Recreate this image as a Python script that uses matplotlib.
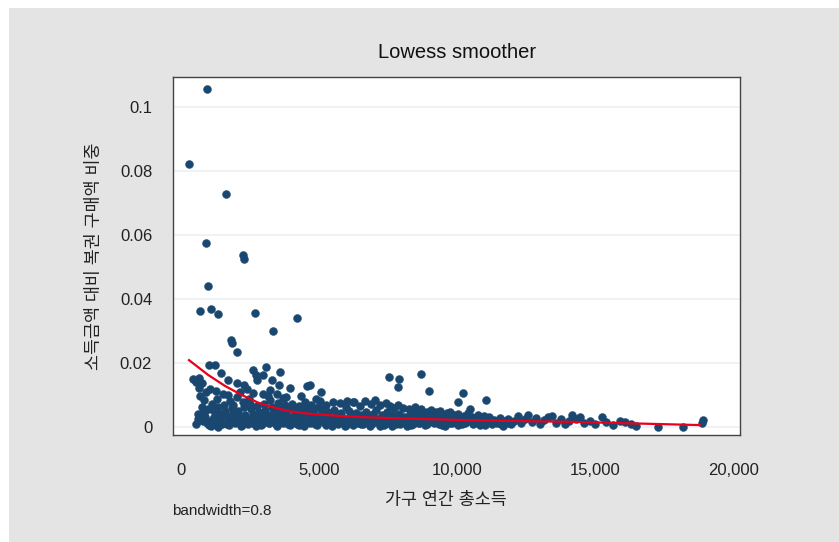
import numpy as np
import matplotlib.pyplot as plt
from matplotlib.patches import Rectangle
from matplotlib.ticker import FuncFormatter

plt.rcParams['font.family'] = ['Liberation Sans', 'Noto Sans CJK KR', 'DejaVu Sans']

# household income vs. share of income spent on lottery tickets
income = [
    940, 290, 1630, 910, 2250, 2280, 980, 690, 1090, 1340,
    2680, 4200, 3330, 1810, 1850, 2030, 1010, 1230, 1450, 2610,
    3080, 2720, 3590, 650, 760, 900, 1700, 2760, 2980, 3300,
    3550, 3950, 4560, 3230, 2030, 2290, 1260, 1700, 3800, 4330,
    5060, 7540, 7900, 7860, 8700, 8990, 10220, 10040, 11050, 6230,
    # 300-1000
    430, 560, 640, 700, 760, 820, 880, 930, 690, 980, 850, 600,
    # 1000-2000
    1040, 1110, 1160, 1200, 1250, 1300, 1350, 1390, 1430, 1480,
    1520, 1560, 1600, 1650, 1700, 1740, 1790, 1840, 1880, 1920,
    1960, 1080, 1330, 1620, 1900,
    # 2000-3000
    2020, 2060, 2100, 2140, 2180, 2230, 2280, 2320, 2370, 2410,
    2460, 2500, 2550, 2590, 2640, 2680, 2720, 2770, 2810, 2850,
    2900, 2950, 2980, 2150, 2400, 2600,
    # 3000-4000
    3020, 3060, 3100, 3150, 3190, 3240, 3290, 3330, 3380, 3420,
    3470, 3510, 3560, 3600, 3650, 3700, 3750, 3800, 3840, 3890,
    3940, 3980, 3150, 3460, 3700,
    # 4000-5000
    4030, 4080, 4120, 4170, 4210, 4260, 4310, 4350, 4400, 4450,
    4490, 4540, 4590, 4630, 4680, 4720, 4770, 4810, 4860, 4910,
    4950, 4680, 4880,
    # 5000-6000
    5030, 5080, 5120, 5170, 5220, 5270, 5320, 5360, 5410, 5460,
    5510, 5560, 5600, 5650, 5700, 5750, 5800, 5840, 5890, 5940,
    5980,
    # 6000-7000
    6030, 6080, 6130, 6180, 6230, 6280, 6330, 6380, 6420, 6470,
    6520, 6570, 6610, 6660, 6710, 6760, 6800, 6850, 6900, 6950,
    # 7000-8000
    7030, 7080, 7120, 7170, 7220, 7270, 7320, 7360, 7410, 7460,
    7510, 7560, 7600, 7650, 7700, 7750, 7800, 7850, 7900, 7950,
    # 8000-9000
    8040, 8090, 8140, 8190, 8250, 8300, 8360, 8410, 8470, 8520,
    8580, 8630, 8690, 8740, 8800, 8850, 8910, 8960,
    # 9000-10000
    9040, 9100, 9160, 9220, 9280, 9340, 9400, 9460, 9520, 9580,
    9640, 9700, 9760, 9820, 9880, 9940,
    # 10000-11000
    10050, 10120, 10190, 10260, 10330, 10400, 10470, 10540, 10610, 10680,
    10750, 10820, 10900, 10970,
    # 11000-12000
    11080, 11170, 11260, 11350, 11450, 11550, 11650, 11750, 11850, 11950,
    # 12000 and up
    12080, 12200, 12330, 12450, 12570, 12700, 12850, 13000, 13150, 13300,
    13440, 13600, 13750, 13900, 14050, 14170, 14300, 14460, 14600, 14800,
    15000, 15250, 15400, 15650, 15900, 16090, 16300, 16500, 17280, 18190,
    18880, 18910,
    # low-share households
    560, 620, 780, 840, 1020, 1140, 1280, 1410, 1540, 1680,
    1820, 1970, 2080, 2200, 2340, 2480, 2620, 2750, 2880, 3040,
    3170, 3310, 3440, 3580, 3720, 3860, 4000, 4140, 4280, 4420,
    4560, 4700, 4840, 4980, 5120, 5260, 5400, 5540, 5680, 5820,
    5960, 6100, 6240, 6380, 6520, 6660, 6800, 6940, 7080, 7220,
    7360, 7500, 7640, 7780, 7920, 8060, 8200, 8340, 8480, 8620,
    8760, 8900, 9040, 9180, 9320, 9460, 9600, 9740, 9880, 10020,
    10160, 10300, 10440, 10580, 10720, 10860, 11000, 11200, 11400, 11600,
    11800,
]
share = [
    0.1056, 0.0822, 0.0728, 0.0575, 0.0538, 0.0525, 0.0441, 0.0363, 0.0369, 0.0353,
    0.0356, 0.0341, 0.0300, 0.0272, 0.0262, 0.0234, 0.0194, 0.0194, 0.0169, 0.0178,
    0.0188, 0.0163, 0.0172, 0.0153, 0.0138, 0.0109, 0.0147, 0.0147, 0.0163, 0.0147,
    0.0131, 0.0122, 0.0128, 0.0116, 0.0138, 0.0131, 0.0113, 0.0100, 0.0094, 0.0097,
    0.0110, 0.0156, 0.0150, 0.0125, 0.0166, 0.0113, 0.0106, 0.0078, 0.0084, 0.0078,
    # 300-1000
    0.0150, 0.0141, 0.0122, 0.0098, 0.0064, 0.0047, 0.0031, 0.0013, 0.0022, 0.0056, 0.0083, 0.0040,
    # 1000-2000
    0.0118, 0.0072, 0.0052, 0.0030, 0.0016, 0.0088, 0.0061, 0.0041, 0.0024, 0.0009,
    0.0104, 0.0070, 0.0050, 0.0034, 0.0019, 0.0005, 0.0082, 0.0058, 0.0043, 0.0026,
    0.0012, 0.0003, 0.0000, 0.0011, 0.0068,
    # 2000-3000
    0.0093, 0.0049, 0.0031, 0.0017, 0.0004, 0.0078, 0.0062, 0.0038, 0.0022, 0.0010,
    0.0089, 0.0071, 0.0055, 0.0041, 0.0028, 0.0014, 0.0002, 0.0066, 0.0047, 0.0033,
    0.0020, 0.0008, 0.0102, 0.0110, 0.0118, 0.0106,
    # 3000-4000
    0.0072, 0.0052, 0.0036, 0.0023, 0.0011, 0.0084, 0.0062, 0.0044, 0.0029, 0.0016,
    0.0004, 0.0076, 0.0056, 0.0039, 0.0025, 0.0012, 0.0068, 0.0049, 0.0034, 0.0019,
    0.0006, 0.0060, 0.0098, 0.0104, 0.0090,
    # 4000-5000
    0.0073, 0.0052, 0.0036, 0.0022, 0.0010, 0.0066, 0.0046, 0.0031, 0.0017, 0.0003,
    0.0078, 0.0058, 0.0040, 0.0026, 0.0013, 0.0069, 0.0049, 0.0033, 0.0019, 0.0007,
    0.0063, 0.0131, 0.0088,
    # 5000-6000
    0.0081, 0.0055, 0.0038, 0.0024, 0.0011, 0.0070, 0.0047, 0.0030, 0.0016, 0.0004,
    0.0079, 0.0052, 0.0035, 0.0021, 0.0009, 0.0074, 0.0044, 0.0028, 0.0014, 0.0002,
    0.0063,
    # 6000-7000
    0.0082, 0.0050, 0.0032, 0.0018, 0.0006, 0.0078, 0.0043, 0.0027, 0.0013, 0.0067,
    0.0038, 0.0022, 0.0009, 0.0080, 0.0048, 0.0030, 0.0016, 0.0003, 0.0072, 0.0040,
    # 7000-8000
    0.0084, 0.0054, 0.0026, 0.0012, 0.0068, 0.0036, 0.0020, 0.0007, 0.0075, 0.0046,
    0.0029, 0.0066, 0.0015, 0.0002, 0.0058, 0.0033, 0.0019, 0.0070, 0.0042, 0.0010,
    # 8000-9000
    0.0060, 0.0031, 0.0015, 0.0003, 0.0055, 0.0038, 0.0022, 0.0009, 0.0064, 0.0043,
    0.0025, 0.0012, 0.0056, 0.0034, 0.0018, 0.0005, 0.0048, 0.0027,
    # 9000-10000
    0.0052, 0.0030, 0.0014, 0.0046, 0.0022, 0.0008, 0.0050, 0.0033, 0.0017, 0.0004,
    0.0044, 0.0026, 0.0047, 0.0011, 0.0036, 0.0019,
    # 10000-11000
    0.0040, 0.0021, 0.0008, 0.0034, 0.0015, 0.0044, 0.0055, 0.0031, 0.0012, 0.0026,
    0.0038, 0.0006, 0.0022, 0.0033,
    # 11000-12000
    0.0016, 0.0030, 0.0009, 0.0022, 0.0013, 0.0027, 0.0004, 0.0018, 0.0025, 0.0010,
    # 12000 and up
    0.0020, 0.0034, 0.0012, 0.0026, 0.0038, 0.0016, 0.0029, 0.0009, 0.0022, 0.0030,
    0.0034, 0.0014, 0.0024, 0.0008, 0.0019, 0.0038, 0.0026, 0.0031, 0.0012, 0.0020,
    0.0009, 0.0031, 0.0015, 0.0006, 0.0019, 0.0016, 0.0009, 0.0004, 0.0000, 0.0000,
    0.0013, 0.0022,
    # low-share households
    0.0008, 0.0026, 0.0018, 0.0036, 0.0006, 0.0021, 0.0013, 0.0031, 0.0044, 0.0009,
    0.0024, 0.0015, 0.0039, 0.0007, 0.0027, 0.0019, 0.0012, 0.0033, 0.0005, 0.0023,
    0.0014, 0.0037, 0.0008, 0.0028, 0.0017, 0.0010, 0.0032, 0.0021, 0.0006, 0.0042,
    0.0015, 0.0025, 0.0009, 0.0034, 0.0018, 0.0007, 0.0029, 0.0012, 0.0040, 0.0020,
    0.0005, 0.0026, 0.0014, 0.0035, 0.0009, 0.0022, 0.0031, 0.0011, 0.0019, 0.0004,
    0.0027, 0.0013, 0.0037, 0.0008, 0.0023, 0.0016, 0.0030, 0.0006, 0.0020, 0.0012,
    0.0028, 0.0009, 0.0024, 0.0015, 0.0033, 0.0005, 0.0019, 0.0011, 0.0027, 0.0007,
    0.0021, 0.0013, 0.0030, 0.0009, 0.0017, 0.0024, 0.0006, 0.0015, 0.0020, 0.0008,
    0.0012,
]

# lowess fit (bandwidth 0.8)
fit_x = [290, 980, 1600, 2200, 2800, 3400, 4000, 4700, 5500, 6500,
         8300, 10100, 12000, 14200, 16500, 18800]
fit_y = [0.0209, 0.0163, 0.0128, 0.0100, 0.0076, 0.0060, 0.0048, 0.0041, 0.0036, 0.0031,
         0.0026, 0.0022, 0.0019, 0.0016, 0.0011, 0.0006]

yticks = [0, 0.02, 0.04, 0.06, 0.08, 0.1]
ytick_labels = ['0', '0.02', '0.04', '0.06', '0.08', '0.1']
xticks = [0, 5000, 10000, 15000, 20000]

fig = plt.figure(figsize=(8.39, 5.42), dpi=100)
fig.patch.set_facecolor('white')
fig.patches.append(Rectangle((9/839, 0), 1 - 9/839, 1 - 8/542, transform=fig.transFigure,
                             facecolor='#e4e4e4', edgecolor='none', zorder=-10))

ax = fig.add_axes([173/839, 107/542, 567/839, 358/542])
ax.set_zorder(1)
ax.set_facecolor('white')
ax.set_axisbelow(True)
ax.grid(axis='y', color='#eef1f4', linewidth=1.2)
ax.grid(axis='x', visible=False)

ax.scatter(income, share, s=33, color='#1a476f', edgecolors='#1a476f', linewidths=0.3, zorder=2)
ax.plot(fit_x, fit_y, color='#e8001c', linewidth=1.6, zorder=3)

ax.set_xlim(-290, 20250)
ax.set_ylim(-0.0025, 0.1094)
ax.set_xticks(xticks)
ax.xaxis.set_major_formatter(FuncFormatter(lambda v, p: f'{int(v):,}'))
ax.set_yticks(yticks)
ax.set_yticklabels(ytick_labels)
ax.tick_params(axis='both', length=0, labelsize=12, colors='#222222')
ax.tick_params(axis='x', pad=20)
ax.tick_params(axis='y', pad=15)
for sp in ax.spines.values():
    sp.set_color('#444444')
    sp.set_linewidth(1.0)

ax.set_ylabel('소득금액 대비 복권 구매액 비중', fontsize=12.5, labelpad=13, color='#222222')
fig.text(446/839, 1 - 500/542, '가구 연간 총소득', ha='center', va='center', fontsize=12.5, color='#222222')
fig.text(457/839, 1 - 52/542, 'Lowess smoother', ha='center', va='center', fontsize=14.5, color='#111111')
fig.text(172/839, 1 - 511/542, 'bandwidth=0.8', ha='left', va='center', fontsize=11, color='#222222')

fig.savefig('out.png', dpi=100)
